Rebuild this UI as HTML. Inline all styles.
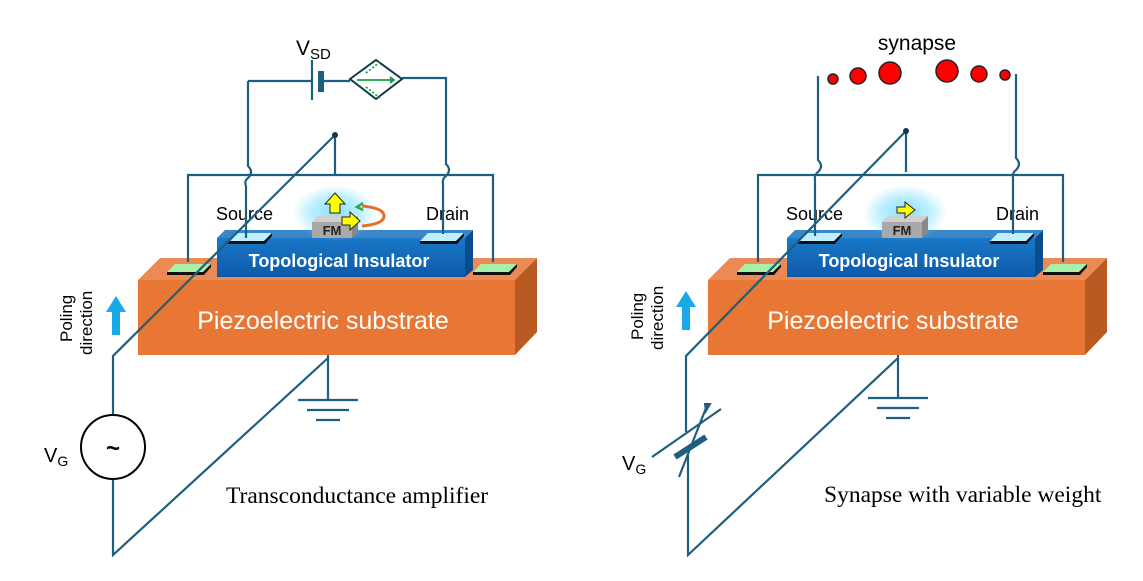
<!DOCTYPE html>
<html><head><meta charset="utf-8"><style>
html,body{margin:0;padding:0;background:#fff;width:1143px;height:581px;overflow:hidden}
svg{display:block}
text{font-family:"Liberation Sans",sans-serif}
text.serif{font-family:"Liberation Serif",serif}
</style></head><body>
<svg width="1143" height="581" viewBox="0 0 1143 581" xmlns="http://www.w3.org/2000/svg">
<defs>
<radialGradient id="glow"><stop offset="0" stop-color="#7fe0ff" stop-opacity="0.95"/><stop offset="0.6" stop-color="#7fe0ff" stop-opacity="0.5"/><stop offset="1" stop-color="#7fe0ff" stop-opacity="0"/></radialGradient>
<linearGradient id="ti" x1="0" y1="0" x2="0" y2="1"><stop offset="0" stop-color="#1a78c8"/><stop offset="1" stop-color="#0c5aa8"/></linearGradient>
<g id="dev">
  <polygon points="138,280 160,258 537,258 515,280" fill="#ec8a55"/>
  <polygon points="515,280 537,258 537,332 515,355" fill="#b85a22"/>
  <rect x="138" y="280" width="377" height="75" fill="#e87634"/>
  <text x="323" y="329" font-size="25" fill="#fff" text-anchor="middle">Piezoelectric substrate</text>
  <polygon points="217,238 225,230 473,230 465,238" fill="#3a86c8"/>
  <polygon points="465,238 473,230 473,270 465,277" fill="#0a4c8c"/>
  <rect x="217" y="238" width="248" height="39" fill="url(#ti)"/>
  <text x="339" y="267" font-size="18" font-weight="bold" fill="#fff" text-anchor="middle">Topological  Insulator</text>
  <polygon points="228,241 236,233 272,233 264,241" fill="#bfeeff"/><polygon points="228,241 264,241 272,233 272,236 265,244 228,244" fill="#111"/>
  <polygon points="420,241 428,233 464,233 456,241" fill="#bfeeff"/><polygon points="420,241 456,241 464,233 464,236 457,244 420,244" fill="#111"/>
  <polygon points="167,272 175,264 211,264 203,272" fill="#a8f0a8"/><polygon points="167,272 203,272 211,264 211,267 204,275 167,275" fill="#111"/>
  <polygon points="473,272 481,264 517,264 509,272" fill="#a8f0a8"/><polygon points="473,272 509,272 517,264 517,267 510,275 473,275" fill="#111"/>
  <ellipse cx="335" cy="213" rx="42" ry="28" fill="url(#glow)"/>
  <polygon points="312,222 318,216 358,216 352,222" fill="#d0d0d0"/>
  <polygon points="352,222 358,216 358,232 352,238" fill="#888"/>
  <rect x="312" y="222" width="40" height="16" fill="#a9a9a9"/>
  <text x="332" y="235" font-size="13" font-weight="bold" fill="#222" text-anchor="middle">FM</text>
  <text x="216" y="220" font-size="18" fill="#000">Source</text>
  <text x="426" y="220" font-size="18" fill="#000">Drain</text>
  <g fill="none" stroke="#1e5f7f" stroke-width="2.2">
    <path d="M188,262 V175 H493 V262"/>
  </g>
</g>
</defs>

<use href="#dev"/>
<g fill="none" stroke="#1e5f7f" stroke-width="2.2">
  <path d="M248,81 V166 q6,6 0,12 q-4,3 -2,8 V238"/>
  <path d="M248,81 H312"/>
  <path d="M312,60 V100"/>
  <path d="M321,81 H350"/>
  <path d="M402,78 H446 V164 q6,6 0,12 q-4,3 -3,8 V234"/>
  <path d="M335,135 V175"/>
  <path d="M335,135 L113,356 V415"/>
  <path d="M113,479 V555 L328,358"/>
  <path d="M328,355 V400"/>
  <path d="M298,400 H358 M307,410 H349 M316,420 H340"/>
</g>
<rect x="318" y="71" width="6" height="21" fill="#1e5f7f"/>
<circle cx="335" cy="135" r="3" fill="#12384a"/>
<polygon points="350,79 376,60 402,79 376,99" fill="#fff" stroke="#12384a" stroke-width="2"/>
<g stroke="#1aa04a" stroke-width="1.8" fill="none">
  <path d="M357,80 H392"/><path d="M390,77 L394,80 L390,83" fill="#1aa04a"/>
  <path d="M366,73 L380,62" stroke-dasharray="2,2"/><path d="M366,87 L380,98" stroke-dasharray="2,2"/>
</g>
<text x="296" y="55" font-size="21">V<tspan font-size="15" dy="4">SD</tspan></text>
<polygon points="330,213 330,204 325,204 335,193 345,204 340,204 340,213" fill="#ffff00" stroke="#222" stroke-width="1"/>
<polygon points="342,217 350,217 350,212 360,221 350,230 350,225 342,225" fill="#ffff00" stroke="#222" stroke-width="1"/>
<path d="M362,206 q22,2 22,10 q0,8 -22,10" fill="none" stroke="#e56e2a" stroke-width="3"/>
<path d="M363,203 l-6,4 l6,3" fill="none" stroke="#2aa84a" stroke-width="2.5"/>
<polygon points="112,335 112,312 106,312 116,296 126,312 120,312 120,335" fill="#19a8e8"/>
<text transform="translate(72,342) rotate(-90)" font-size="17">Poling</text>
<text transform="translate(92,355) rotate(-90)" font-size="17">direction</text>
<circle cx="113" cy="447" r="32" fill="#fff" stroke="#000" stroke-width="2"/>
<text x="113" y="456" font-size="24" font-weight="bold" text-anchor="middle">~</text>
<text x="44" y="462" font-size="20">V<tspan font-size="14" dy="4">G</tspan></text>
<text x="226" y="503" font-size="23.5" class="serif">Transconductance amplifier</text>

<use href="#dev" transform="translate(570,0)"/>
<g fill="none" stroke="#1e5f7f" stroke-width="2.2">
  <path d="M818,76 V160 q6,6 0,12 q-4,3 -3,8 V236"/>
  <path d="M1016,74 V158 q6,6 0,12 q-4,3 -3,8 V234"/>
  <path d="M906,131 V172"/>
  <path d="M906,131 L686,356 V432 M688,455 V555 L898,358"/>
  <path d="M898,355 V398"/>
  <path d="M868,398 H928 M877,408 H919 M886,418 H910"/>
  <path d="M652,457 L721,409"/>
  <path d="M679,477 L706,408"/>
</g>
<polygon points="705,404 710,404 706,411" fill="#1e5f7f" stroke="#1e5f7f" stroke-width="2"/>
<line x1="675" y1="457" x2="706" y2="437" stroke="#1e5f7f" stroke-width="6"/>
<circle cx="906" cy="131" r="3" fill="#12384a"/>
<g fill="#ff0000" stroke="#222" stroke-width="1.5">
  <circle cx="833" cy="79" r="5"/><circle cx="858" cy="76" r="8"/><circle cx="890" cy="73" r="11"/>
  <circle cx="947" cy="71" r="11"/><circle cx="979" cy="74" r="8"/><circle cx="1005" cy="75" r="5"/>
</g>
<text x="917" y="50" font-size="21" text-anchor="middle">synapse</text>
<polygon points="897,207 905,207 905,202 915,210 905,218 905,213 897,213" fill="#ffff00" stroke="#222" stroke-width="1"/>
<polygon points="682,330 682,307 676,307 686,291 696,307 690,307 690,330" fill="#19a8e8"/>
<text transform="translate(643,340) rotate(-90)" font-size="17">Poling</text>
<text transform="translate(663,350) rotate(-90)" font-size="17">direction</text>
<text x="622" y="470" font-size="20">V<tspan font-size="14" dy="4">G</tspan></text>
<text x="824" y="502" font-size="23.5" class="serif">Synapse with variable weight</text>
</svg>
</body></html>
